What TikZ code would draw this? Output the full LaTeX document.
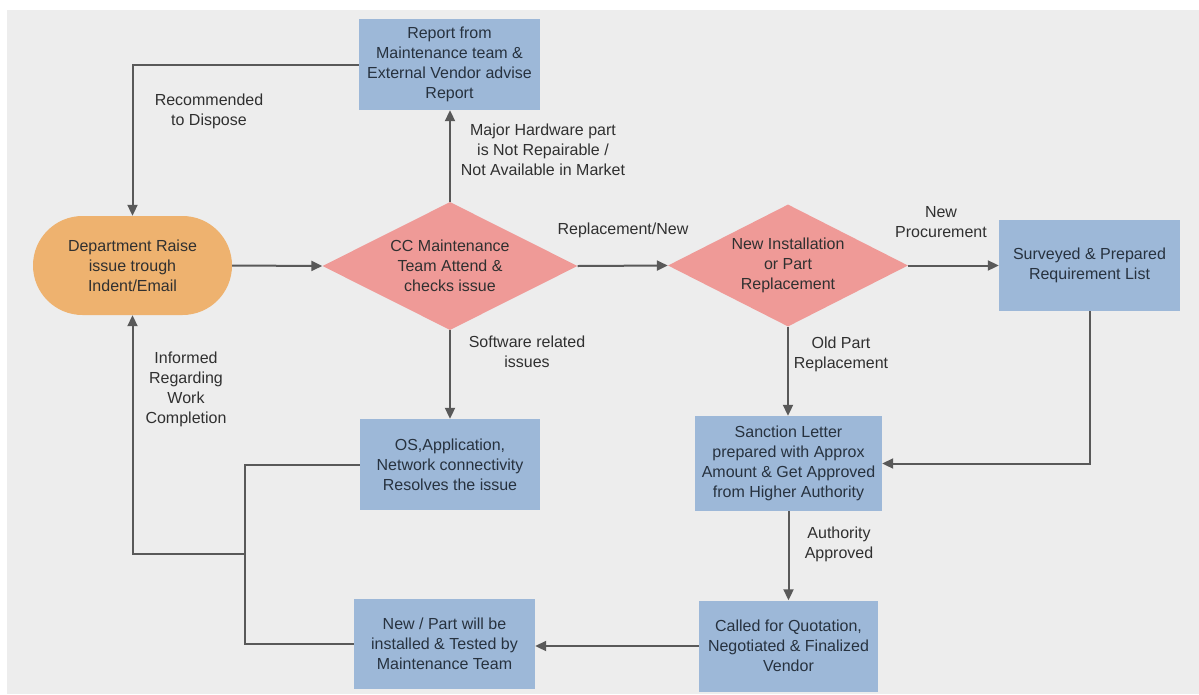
\documentclass[tikz,border=0pt]{standalone}
\usepackage{fontspec}
\setmainfont{Liberation Sans}
\usetikzlibrary{shapes.geometric,arrows.meta}
\definecolor{bg}{HTML}{EDEDED}
\definecolor{boxblue}{HTML}{9DB8D8}
\definecolor{diam}{HTML}{EF9A97}
\definecolor{termc}{HTML}{EEB26F}
\definecolor{lin}{HTML}{595959}
\definecolor{txt}{HTML}{303030}
\definecolor{boxtxt}{HTML}{27323F}
\begin{document}
\begin{tikzpicture}[x=1pt,y=-1pt,
  font=\fontsize{16}{20}\selectfont,
  box/.style={rectangle, fill=boxblue, minimum width=181pt, minimum height=91pt, inner sep=2pt, align=center, text=boxtxt},
  dec/.style={diamond, fill=diam, aspect=2, inner sep=0pt, align=center, text=txt},
  termnode/.style={rectangle, rounded corners=49.5pt, fill=termc, minimum width=199pt, minimum height=99pt, inner sep=0pt, align=center, text=txt},
  arr/.style={draw=lin, line width=2pt, -{Triangle[length=11pt,width=10pt]}},
  ln/.style={draw=lin, line width=2pt},
  lbl/.style={align=center, text=txt, inner sep=0pt}]
\useasboundingbox (0,0) rectangle (1199,694);
\fill[white] (0,0) rectangle (1199,694);
\fill[bg] (7,10) rectangle (1199,694);

% nodes
\node[box] (report) at (449.5,64.5) {Report from\\Maintenance team \&\\External Vendor advise\\Report};
\node[termnode] (dept) at (132.5,265.5) {Department Raise\\issue trough\\Indent/Email};
\node[dec, minimum width=255pt, minimum height=128pt] (cc) at (450,266) {CC Maintenance\\Team Attend \&\\checks issue};
\node[dec, minimum width=240pt, minimum height=122pt] (inst) at (788,265.5) {New Installation\\or Part\\Replacement};
\node[box] (survey) at (1089.5,265.5) {Surveyed \& Prepared\\Requirement List};
\node[box, minimum width=180pt] (os) at (450,464.5) {OS,Application,\\Network connectivity\\Resolves the issue};
\node[box, minimum width=187pt, minimum height=95pt] (sanction) at (788.5,463.5) {Sanction Letter\\prepared with Approx\\Amount \& Get Approved\\from Higher Authority};
\node[box, minimum width=179pt] (called) at (788.5,646) {Called for Quotation,\\Negotiated \& Finalized\\Vendor};
\node[box, minimum height=90pt] (newpart) at (444.5,644) {New / Part will be\\installed \& Tested by\\Maintenance Team};

\coordinate (j) at (245,554);

% connectors
\draw[arr] (report.west) -| (dept.north);
\draw[arr] (dept.east) -- (cc.west);
\draw[arr] (cc.north) -- (cc.north |- report.south);
\draw[arr] (cc.east) -- (inst.west);
\draw[arr] (inst.east) -- (survey.west);
\draw[arr] (cc.south) -- (cc.south |- os.north);
\draw[arr] (inst.south) -- (inst.south |- sanction.north);
\draw[arr] (survey.south) |- (sanction.east);
\draw[arr] (sanction.south) -- (sanction.south |- called.north);
\draw[arr] (called.west) -- (called.west -| newpart.east);
\draw[ln] (os.west) -| (j);
\draw[ln] (newpart.west) -| (j);
\draw[arr] (j) -| (dept.south);

% labels
\node[lbl] (l1) at (209,111) {Recommended\\to Dispose};
\node[lbl] (l2) at (543,150) {Major Hardware part\\is Not Repairable /\\Not Available in Market};
\node[lbl] (l3) at (623,230) {Replacement/New};
\node[lbl] (l4) at (941,222) {New\\Procurement};
\node[lbl] (l5) at (527,352) {Software related\\issues};
\node[lbl] (l6) at (841,354) {Old Part\\Replacement};
\node[lbl] (l7) at (186,389) {Informed\\Regarding\\Work\\Completion};
\node[lbl] (l8) at (839,544) {Authority\\Approved};
\end{tikzpicture}
\end{document}
